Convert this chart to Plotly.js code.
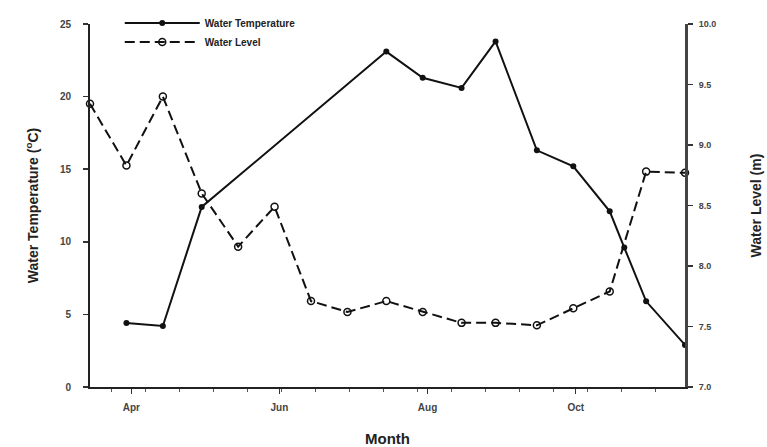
<!DOCTYPE html>
<html>
<head>
<meta charset="utf-8">
<script src="https://cdn.plot.ly/plotly-3.0.1.min.js"></script>
<style>html,body{margin:0;padding:0;background:#fff;}#chart{width:767px;height:447px;}</style>
</head>
<body>
<div id="chart"></div>
<script>
// Water temperature (°C), left axis
var tempDates = ["2010-03-30","2010-04-14","2010-04-30","2010-07-15","2010-07-30","2010-08-15","2010-08-29","2010-09-15","2010-09-30","2010-10-15","2010-10-21","2010-10-30","2010-11-15"];
var tempValues = [4.4, 4.2, 12.4, 23.1, 21.3, 20.6, 23.8, 16.3, 15.2, 12.1, 9.6, 5.9, 2.9];

// Water level (m), right axis
var levelDates = ["2010-03-15","2010-03-30","2010-04-14","2010-04-30","2010-05-15","2010-05-30","2010-06-14","2010-06-29","2010-07-15","2010-07-30","2010-08-15","2010-08-29","2010-09-15","2010-09-30","2010-10-15","2010-10-30","2010-11-15"];
var levelValues = [9.34, 8.83, 9.40, 8.60, 8.16, 8.49, 7.71, 7.62, 7.71, 7.62, 7.53, 7.53, 7.51, 7.65, 7.79, 8.78, 8.77];

var seriesNames = ["Water Temperature", "Water Level"];
var xTitle = "Month";
var yTitle = "Water Temperature (<sup>o</sup>C)";
var y2Title = "Water Level (m)";

var fontFam = "Liberation Sans, Arial, sans-serif";

var traces = [
  {
    x: tempDates, y: tempValues, name: seriesNames[0], type: "scatter", mode: "lines+markers",
    line: {color: "#111", width: 2},
    marker: {symbol: "circle", size: 6, color: "#111"},
    cliponaxis: false
  },
  {
    x: levelDates, y: levelValues, name: seriesNames[1], type: "scatter", mode: "lines+markers", yaxis: "y2",
    line: {color: "#111", width: 2, dash: "10px,5px"},
    marker: {symbol: "circle-open", size: 7, color: "#111", line: {width: 1.5}},
    cliponaxis: false
  }
];

var layout = {
  width: 767, height: 447,
  margin: {l: 90, r: 82, t: 24, b: 60, autoexpand: false},
  paper_bgcolor: "#fff", plot_bgcolor: "#fff",
  showlegend: true,
  font: {family: fontFam, color: "#333"},
  legend: {
    x: 0.05, y: 1.043, xanchor: "left", yanchor: "top",
    bgcolor: "rgba(0,0,0,0)", itemwidth: 75, tracegroupgap: 0,
    font: {family: fontFam, size: 10, color: "#222", weight: "bold"}
  },
  xaxis: {
    type: "date",
    range: ["2010-03-15", "2010-11-15"],
    tick0: "2010-04-01", dtick: "M2", tickformat: "%b",
    ticks: "outside", ticklen: 5, tickwidth: 1.5, tickcolor: "#333",
    ticklabelstandoff: 5,
    showline: true, linecolor: "#222", linewidth: 2,
    showgrid: false, zeroline: false,
    tickfont: {family: fontFam, size: 10, color: "#444", weight: "bold"},
    minor: {tick0: "2010-03-24", dtick: 14 * 86400000, ticks: "outside", ticklen: 3, tickcolor: "#555", tickwidth: 1, showgrid: false},
    title: {text: xTitle, font: {family: fontFam, size: 15, color: "#222", weight: "bold"}, standoff: 22}
  },
  yaxis: {
    range: [0, 25], dtick: 5,
    ticks: "outside", ticklen: 5, tickwidth: 1.5, tickcolor: "#333",
    ticklabelstandoff: 10,
    showline: true, linecolor: "#222", linewidth: 2,
    showgrid: false, zeroline: false,
    tickfont: {family: fontFam, size: 10, color: "#444", weight: "bold"},
    title: {text: yTitle, font: {family: fontFam, size: 14, color: "#222", weight: "bold"}, standoff: 18}
  },
  yaxis2: {
    overlaying: "y", side: "right",
    range: [7, 10], dtick: 0.5, tickformat: ".1f",
    ticks: "outside", ticklen: 5, tickwidth: 1.5, tickcolor: "#333",
    ticklabelstandoff: 4,
    showline: true, linecolor: "#444", linewidth: 3,
    showgrid: false, zeroline: false,
    tickfont: {family: fontFam, size: 9, color: "#444", weight: "bold"},
    title: {text: y2Title, font: {family: fontFam, size: 14, color: "#222", weight: "bold"}, standoff: 36}
  }
};

Plotly.newPlot("chart", traces, layout, {displayModeBar: false, staticPlot: true});
</script>
</body>
</html>
